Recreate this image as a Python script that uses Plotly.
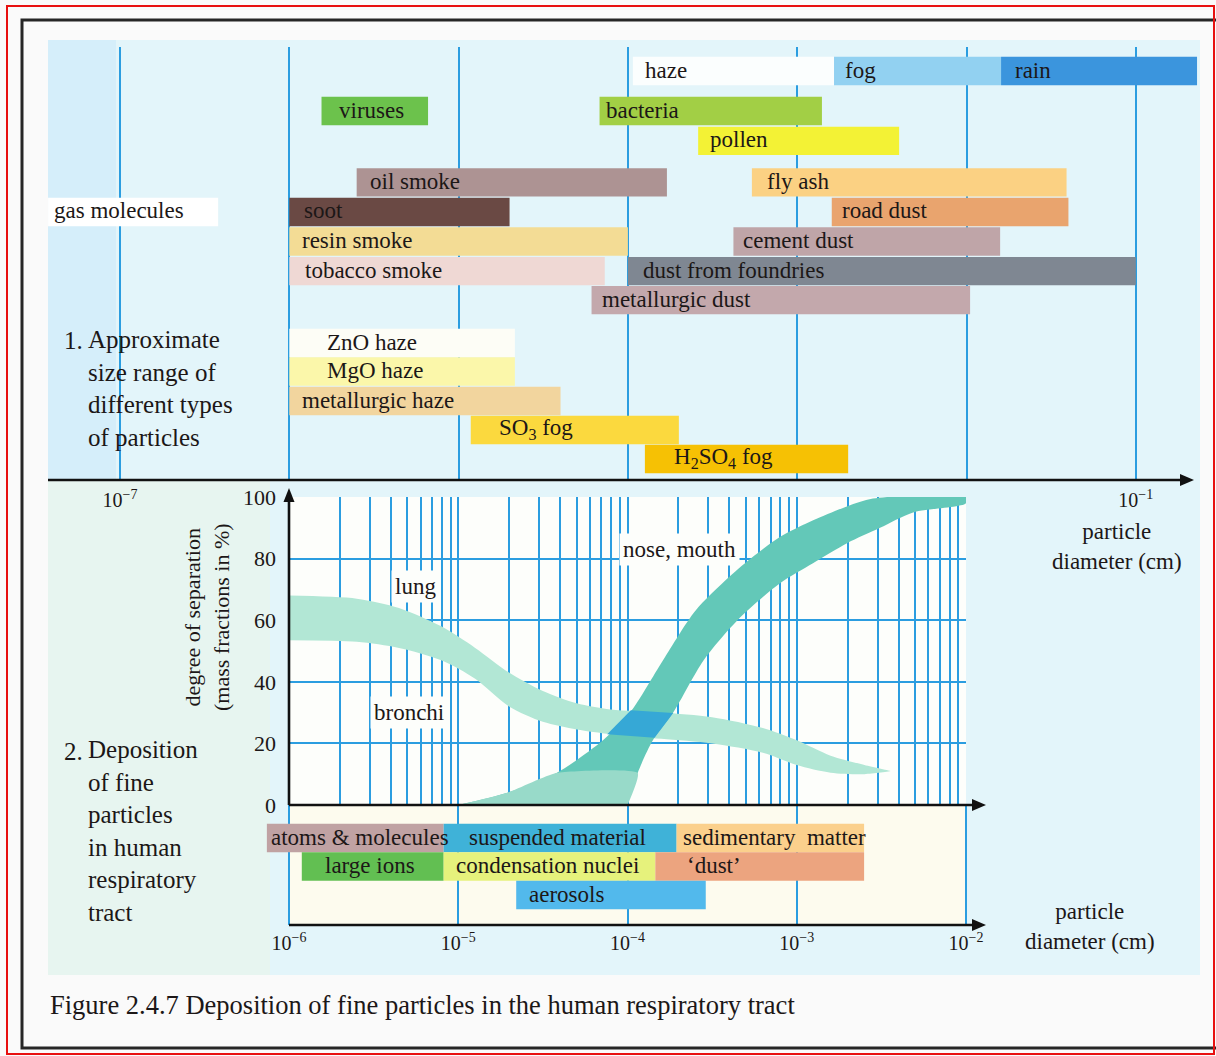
import numpy as np
import plotly.graph_objects as go

# ======================= DATA =======================
# 1. Approximate size range of particle types (particle diameter, cm)
top_names = ["haze", "fog", "rain",
             "viruses", "bacteria",
             "pollen",
             "oil smoke", "fly ash",
             "gas molecules", "soot", "road dust",
             "resin smoke", "cement dust",
             "tobacco smoke", "dust from foundries",
             "metallurgic dust",
             "ZnO haze", "MgO haze", "metallurgic haze",
             "SO<sub>3</sub> fog", "H<sub>2</sub>SO<sub>4</sub> fog"]
top_start = [1.07e-4, 1.65e-3, 1.6e-2,
             1.55e-6, 6.8e-5,
             2.6e-4,
             2.5e-6, 5.4e-4,
             3.76e-8, 1.0e-6, 1.6e-3,
             1.0e-6, 4.2e-4,
             1.0e-6, 1.0e-4,
             6.1e-5,
             1.0e-6, 1.0e-6, 1.0e-6,
             1.18e-5, 1.26e-4]
top_end = [1.65e-3, 1.6e-2, 0.23,
           6.6e-6, 1.4e-3,
           4.0e-3,
           1.7e-4, 3.9e-2,
           3.8e-7, 2.0e-5, 4.0e-2,
           1.0e-4, 1.58e-2,
           7.3e-5, 1.0e-1,
           1.05e-2,
           2.15e-5, 2.15e-5, 4.0e-5,
           2.0e-4, 2.0e-3]
top_row = [0, 0, 0, 1, 1, 2, 3, 3, 4, 4, 4, 5, 5, 6, 6, 7, 8, 9, 10, 11, 12]

# 2. Deposition of fine particles (degree of separation, %) vs log10(diameter / cm)
lung_log_d = [-6.0, -5.6, -5.35, -5.1, -4.9, -4.7, -4.5, -4.3, -4.1, -3.8, -3.5, -3.2, -3.0, -2.8, -2.6, -2.44]
lung_upper = [68, 67, 64, 58, 51, 43, 37, 33, 31, 30, 28.5, 25, 21, 16, 13, 11]
lung_lower = [53.5, 53, 51, 47, 41, 32, 27, 24.5, 23, 21.5, 20, 17, 13, 10.5, 10, 11]

nose_up_log_d = [-5.0, -4.71, -4.42, -4.145, -3.985, -3.79, -3.6, -3.4, -3.25, -3.1, -2.9, -2.7, -2.55, -2.0]
nose_upper = [0, 4, 10.4, 21, 30, 47, 63, 74, 81, 87, 92.5, 97, 99.5, 100]
nose_lo_log_d = [-4.0, -3.94, -3.85, -3.73, -3.55, -3.35, -3.099, -2.904, -2.703, -2.508, -2.313, -2.0]
nose_lower = [0, 10.4, 21, 30, 47, 60, 72, 78.5, 85, 90, 95, 98]

nose_tail_log_d = [-5.0, -4.71, -4.42, -3.94, -4.0]
nose_tail_y = [0, 4, 10.4, 10.4, 0]

overlap_log_d = [-4.12, -3.98, -3.73, -3.84]
overlap_y = [23, 30.8, 29.9, 21.8]

curve_labels = ["lung", "bronchi", "nose, mouth"]
curve_label_log_d = [-5.25, -5.29, -3.69]
curve_label_y = [71, 30, 83]

# particle classes below the deposition chart (cm)
cat_names = ["atoms &amp; molecules", "suspended material", "sedimentary\u00a0 matter",
             "large ions", "condensation nuclei", "\u2018dust\u2019",
             "aerosols"]
cat_start = [7.4e-7, 8.2e-6, 1.95e-4, 1.19e-6, 8.2e-6, 1.46e-4, 2.2e-5]
cat_end = [8.2e-6, 1.95e-4, 2.5e-3, 8.2e-6, 1.46e-4, 2.5e-3, 2.9e-4]
cat_row = [0, 0, 0, 1, 1, 1, 2]

y_ticks = [0, 20, 40, 60, 80, 100]
top_label_vals = [1e-7, 1e-1]
top_label_text = ["10<sup>\u22127</sup>", "10<sup>\u22121</sup>"]
top_grid_vals = [1e-6, 1e-5, 1e-4, 1e-3, 1e-2]
bot_decades = [1e-6, 1e-5, 1e-4, 1e-3, 1e-2]
bot_tick_text = ["10<sup>\u22126</sup>", "10<sup>\u22125</sup>", "10<sup>\u22124</sup>",
                 "10<sup>\u22123</sup>", "10<sup>\u22122</sup>"]

# ======================= STYLE / LAYOUT =======================
W, H = 1216, 1056
SERIF = "Liberation Serif, Times New Roman, serif"
INK = "#1c1717"
GRID = "#2b9de0"

top_colors = ["#fbfefe", "#92d1f1", "#3b95dd",
              "#6cc24c", "#a2cf45",
              "#f3f235",
              "#ad9393", "#fbd183",
              "#ffffff", "#6a4944", "#e9a46e",
              "#f3dc95", "#bfa5a8",
              "#efd8d4", "#7f8792",
              "#c3a8ac",
              "#fdfdf6", "#fbf7aa", "#f2d59e",
              "#fbd93e", "#f6c104"]
top_pad = [10, 9, 12, 15, 4, 10, 11, 13, 4, 13, 8, 11, 8, 14, 13, 8, 36, 36, 11, 26, 27]
lane_y = [0, 1.38, 2.41, 3.84, 4.86, 5.88, 6.9, 7.9, 9.38, 10.36, 11.38, 12.38, 13.38]

cat_colors = ["#c0a2a3", "#3fb2d8", "#fbd08c", "#62bf52", "#e6f27c", "#eca47f", "#52b9ec"]
cat_pad = [2, 23, 4, 21, 10, 30, 11]

# pixel geometry of the panels
TOP_L, TOP_R, TOP_T, TOP_B = 48, 1200, 47, 480
DEC_T = 169.3
GR_L, GR_R, GR_T, GR_B = 289, 966, 497, 805
CAT_L, CAT_R, CAT_T, CAT_B = 250, 1000, 805, 925
DEC_B = (GR_R - GR_L) / 4.0
ROW_PITCH, ROW0 = 29.0, 71.0
CROW_PITCH, CROW0 = 28.5, 838.0


def top_log(px):
    return -7 + (px - 120) / DEC_T


def bot_log(px):
    return -6 + (px - GR_L) / DEC_B


def PX(x):
    return x / W


def PY(y):
    return 1 - y / H


fig = go.Figure()

# ---- top panel bars ----
fig.add_trace(go.Bar(
    orientation="h", xaxis="x", yaxis="y",
    y=[lane_y[r] for r in top_row], base=top_start,
    x=[e - s for s, e in zip(top_start, top_end)],
    width=0.98, marker=dict(color=top_colors, line=dict(width=0)),
    hoverinfo="skip", showlegend=False))


# ---- deposition bands ----
def band(xs_up, ys_up, xs_lo, ys_lo, color, shape="spline"):
    xs = [10 ** v for v in list(xs_up) + list(xs_lo)[::-1]]
    ys = list(ys_up) + list(ys_lo)[::-1]
    return go.Scatter(x=xs, y=ys, xaxis="x2", yaxis="y2", mode="lines", fill="toself",
                      fillcolor=color, line=dict(width=0, shape=shape, smoothing=0.8),
                      hoverinfo="skip", showlegend=False)


fig.add_trace(band(lung_log_d, lung_upper, lung_log_d, lung_lower, "#b2e7d5"))
fig.add_trace(band(nose_up_log_d, nose_upper, nose_lo_log_d, nose_lower, "#63c8b8"))
fig.add_trace(go.Scatter(x=[10 ** v for v in nose_tail_log_d], y=nose_tail_y, xaxis="x2", yaxis="y2",
                         mode="lines", fill="toself", fillcolor="#98dac9",
                         line=dict(width=0, shape="spline", smoothing=0.5),
                         hoverinfo="skip", showlegend=False))
fig.add_trace(go.Scatter(x=[10 ** v for v in overlap_log_d], y=overlap_y, xaxis="x2", yaxis="y2",
                         mode="lines", fill="toself", fillcolor="#36a8d6", line=dict(width=0),
                         hoverinfo="skip", showlegend=False))

# ---- particle class bars ----
fig.add_trace(go.Bar(
    orientation="h", xaxis="x3", yaxis="y3",
    y=cat_row, base=cat_start, x=[e - s for s, e in zip(cat_start, cat_end)],
    width=1.0, marker=dict(color=cat_colors, line=dict(width=0)),
    hoverinfo="skip", showlegend=False))

ann = []
for name, s, r, p in zip(top_names, top_start, top_row, top_pad):
    ann.append(dict(x=np.log10(s), y=lane_y[r], xref="x", yref="y", text=name, showarrow=False,
                    xanchor="left", yanchor="middle", xshift=p, yshift=1,
                    font=dict(family=SERIF, size=23, color=INK)))
for name, s, r, p in zip(cat_names, cat_start, cat_row, cat_pad):
    ann.append(dict(x=np.log10(s), y=r, xref="x3", yref="y3", text=name, showarrow=False,
                    xanchor="left", yanchor="middle", xshift=p, yshift=1,
                    font=dict(family=SERIF, size=23, color=INK)))
for t, lx, ly in zip(curve_labels, curve_label_log_d, curve_label_y):
    ann.append(dict(x=lx, y=ly, xref="x2", yref="y2", text=t, showarrow=False,
                    bgcolor="#fdfefb", borderpad=3,
                    font=dict(family=SERIF, size=23, color=INK)))


def txt(x, y, text, size, xanchor="center", angle=0, align="center"):
    return dict(x=PX(x), y=PY(y), xref="paper", yref="paper", text=text, showarrow=False,
                xanchor=xanchor, yanchor="middle", textangle=angle, align=align,
                font=dict(family=SERIF, size=size, color=INK))


ann += [
    txt(62, 340, "1.", 25, xanchor="left"),
    txt(86, 388, "Approximate<br>size range of<br>different types<br>of particles", 25,
        xanchor="left", align="left"),
    txt(62, 751, "2.", 25, xanchor="left"),
    txt(86, 831, "Deposition<br>of fine<br>particles<br>in human<br>respiratory<br>tract", 25,
        xanchor="left", align="left"),
    txt(207, 617, "degree of separation<br>(mass fractions in %)", 22, angle=-90),
    txt(1117, 546, "particle<br>diameter (cm)", 23),
    txt(1090, 926, "particle<br>diameter (cm)", 23),
    txt(48, 1005, "Figure 2.4.7 Deposition of fine particles in the human respiratory tract", 26.5,
        xanchor="left"),
]


def rect(x0, y0, x1, y1, fill, line=None, layer="below"):
    return dict(type="rect", xref="paper", yref="paper", x0=PX(x0), x1=PX(x1), y0=PY(y1), y1=PY(y0),
                fillcolor=fill, line=line or dict(width=0), layer=layer)


def hline(x0, x1, y, color="#111111", width=2.6):
    return dict(type="line", xref="paper", yref="paper", x0=PX(x0), x1=PX(x1), y0=PY(y), y1=PY(y),
                line=dict(color=color, width=width), layer="above")


def vline(x, y0, y1, color="#111111", width=2.6):
    return dict(type="line", xref="paper", yref="paper", x0=PX(x), x1=PX(x), y0=PY(y0), y1=PY(y1),
                line=dict(color=color, width=width), layer="above")


def head(pts):
    path = "M " + " L ".join(f"{PX(a):.5f},{PY(b):.5f}" for a, b in pts) + " Z"
    return dict(type="path", xref="paper", yref="paper", path=path, fillcolor="#111111",
                line=dict(width=0), layer="above")


shapes = [
    rect(48, 40, 1200, 975, "#e3f5fa"),
    rect(48, 40, 116, 480, "#d5eefa"),
    rect(48, 480, 270, 975, "#e7f5f0"),
    rect(GR_L, GR_T, GR_R, GR_B, "#fdfefb"),
    rect(GR_L, CAT_T, GR_R, CAT_B, "#fdfbee"),
    rect(22, 20, 1230, 1048, "rgba(0,0,0,0)", dict(color="#262626", width=3), "above"),
    rect(7, 6, 1214, 1054, "rgba(0,0,0,0)", dict(color="#e81010", width=2), "above"),
    # axis lines with arrow heads
    hline(TOP_L, 1182, TOP_B), head([(1194, TOP_B), (1180, TOP_B - 6), (1180, TOP_B + 6)]),
    vline(GR_L, GR_B, 500), head([(GR_L, 488), (GR_L - 5.5, 502), (GR_L + 5.5, 502)]),
    hline(GR_L, 974, GR_B), head([(986, GR_B), (972, GR_B - 6), (972, GR_B + 6)]),
    hline(GR_L, 974, CAT_B), head([(986, CAT_B), (972, CAT_B - 6), (972, CAT_B + 6)]),
]

minor_vals = [k * 10.0 ** n for n in range(-6, -2) for k in range(1, 10)] + [1e-2]

fig.update_layout(
    width=W, height=H, margin=dict(l=0, r=0, t=0, b=0, pad=0, autoexpand=False),
    paper_bgcolor="#fafafa", plot_bgcolor="rgba(0,0,0,0)",
    barmode="overlay", showlegend=False,
    font=dict(family=SERIF, size=22, color=INK),
    xaxis=dict(domain=[PX(TOP_L), PX(TOP_R)], type="log", range=[top_log(TOP_L), top_log(TOP_R)],
               tickmode="array", tickvals=top_label_vals, ticktext=top_label_text,
               showgrid=True, gridcolor=GRID, gridwidth=2, zeroline=False, showline=False,
               minor=dict(tickmode="array", tickvals=top_grid_vals, showgrid=True,
                          gridcolor=GRID, gridwidth=2, ticks=""),
               ticks="", tickfont=dict(family=SERIF, size=20, color=INK), ticklabelstandoff=6,
               anchor="y", fixedrange=True, automargin=False),
    yaxis=dict(domain=[PY(TOP_B), PY(TOP_T)],
               range=[(TOP_B - ROW0) / ROW_PITCH, (TOP_T - ROW0) / ROW_PITCH],
               visible=False, anchor="x", fixedrange=True, automargin=False),
    xaxis2=dict(domain=[PX(GR_L), PX(GR_R)], type="log", range=[-6, -2],
                tickmode="array", tickvals=minor_vals, showticklabels=False, ticks="",
                showgrid=True, gridcolor=GRID, gridwidth=1.8, zeroline=False, showline=False,
                anchor="y2", fixedrange=True, automargin=False),
    yaxis2=dict(domain=[PY(GR_B), PY(GR_T)], range=[0, 100], tickmode="array", tickvals=y_ticks,
                showgrid=True, gridcolor=GRID, gridwidth=2, zeroline=False, showline=False,
                ticks="", tickfont=dict(family=SERIF, size=22, color=INK), ticklabelstandoff=12,
                anchor="x2", fixedrange=True, automargin=False),
    xaxis3=dict(domain=[PX(CAT_L), PX(CAT_R)], type="log", range=[bot_log(CAT_L), bot_log(CAT_R)],
                tickmode="array", tickvals=bot_decades, ticktext=bot_tick_text,
                showgrid=True, gridcolor=GRID, gridwidth=2, zeroline=False, showline=False,
                ticks="", tickfont=dict(family=SERIF, size=20, color=INK), ticklabelstandoff=4,
                anchor="y3", fixedrange=True, automargin=False),
    yaxis3=dict(domain=[PY(CAT_B), PY(CAT_T)],
                range=[(CAT_B - CROW0) / CROW_PITCH, (CAT_T - CROW0) / CROW_PITCH],
                visible=False, anchor="x3", fixedrange=True, automargin=False),
    annotations=ann, shapes=shapes,
)

fig.write_html("out.html", config={"displayModeBar": False},
               post_script="document.body.style.margin='0';document.body.style.overflow='hidden';")
